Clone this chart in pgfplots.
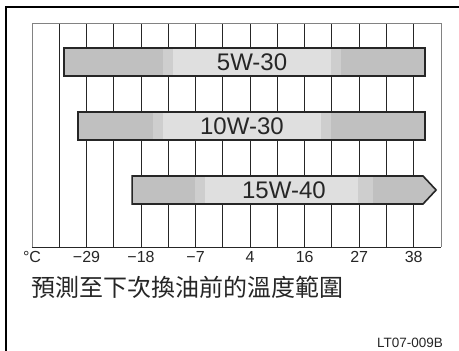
\documentclass[border=0pt]{standalone}
\usepackage{fontspec}
\setmainfont{Liberation Sans}
\newfontfamily\cjk{Noto Sans CJK TC}
\usepackage{pgfplots}
\pgfplotsset{compat=1.18}
\definecolor{barDark}{RGB}{192,192,192}
\definecolor{barMid}{RGB}{206,206,206}
\definecolor{barLight}{RGB}{223,223,223}
\definecolor{gridGray}{RGB}{130,130,130}
\begin{document}
\begin{tikzpicture}
% page: 459 x 351 bp; axis origin placed at page (32,104)
\useasboundingbox (-32bp,-104bp) rectangle (427bp,247bp);
\fill[white] (-32bp,-104bp) rectangle (427bp,247bp);
\draw[line width=2.7bp] (427bp,240bp) -- (-26bp,240bp) -- (-26bp,-104bp);
\begin{axis}[anchor=origin, at={(0,0)}, scale only axis,
  width=409bp, height=224bp, xmin=0, xmax=15, ymin=0, ymax=224,
  axis line style={draw=none}, no markers, clip=false,
  xtick={0,...,14},
  xticklabels={°C,,−29,,−18,,−7,,4,,16,,27,,38},
  ytick=\empty, major tick length=0pt,
  xmajorgrids, grid style={black!85, line width=0.9bp},
  xticklabel style={font=\fontsize{16bp}{16bp}\selectfont, text=black!85, anchor=north, inner sep=0pt, yshift=-4.5bp}]
% borders
\draw[gridGray, line width=0.9bp] (rel axis cs:0,0) -- (rel axis cs:0,1) -- (rel axis cs:1,1) -- (rel axis cs:1,0);
\draw[black!85, line width=0.9bp] (rel axis cs:0,0) -- (rel axis cs:1,0);
% 5W-30
\addplot[fill=barDark, draw=none] coordinates {(1.17,171) (14.41,171) (14.41,199) (1.17,199)} -- cycle;
\addplot[fill=barMid, draw=none] coordinates {(4.80,171) (11.33,171) (11.33,199) (4.80,199)} -- cycle;
\addplot[fill=barLight, draw=none] coordinates {(5.17,171) (10.97,171) (10.97,199) (5.17,199)} -- cycle;
\addplot[draw=black!85, line width=1.6bp, fill=none] coordinates {(1.17,171) (14.41,171) (14.41,199) (1.17,199)} -- cycle;
% 10W-30
\addplot[fill=barDark, draw=none] coordinates {(1.69,107) (14.41,107) (14.41,135) (1.69,135)} -- cycle;
\addplot[fill=barMid, draw=none] coordinates {(4.44,107) (10.97,107) (10.97,135) (4.44,135)} -- cycle;
\addplot[fill=barLight, draw=none] coordinates {(4.80,107) (10.60,107) (10.60,135) (4.80,135)} -- cycle;
\addplot[draw=black!85, line width=1.6bp, fill=none] coordinates {(1.69,107) (14.41,107) (14.41,135) (1.69,135)} -- cycle;
% 15W-40
\addplot[fill=barDark, draw=none] coordinates {(3.67,43) (14.34,43) (14.82,57) (14.34,71) (3.67,71)} -- cycle;
\addplot[fill=barMid, draw=none] coordinates {(5.98,43) (12.51,43) (12.51,71) (5.98,71)} -- cycle;
\addplot[fill=barLight, draw=none] coordinates {(6.34,43) (11.94,43) (11.94,71) (6.34,71)} -- cycle;
\addplot[draw=black!85, line width=1.6bp, fill=none, line join=miter] coordinates {(3.67,43) (14.34,43) (14.82,57) (14.34,71) (3.67,71)} -- cycle;
% labels
\node[font=\fontsize{24bp}{24bp}\selectfont, text=black!85] at (axis cs:8.07,185) {5W-30};
\node[font=\fontsize{24bp}{24bp}\selectfont, text=black!85] at (axis cs:7.70,121) {10W-30};
\node[font=\fontsize{24bp}{24bp}\selectfont, text=black!85] at (axis cs:9.24,57) {15W-40};
\end{axis}
\node[anchor=base west, inner sep=0pt, font=\cjk\fontsize{24bp}{24bp}\selectfont, text=black!85] at (-1bp,-49bp) {預測至下次換油前的溫度範圍};
\node[anchor=base east, inner sep=0pt, font=\fontsize{13.5bp}{13.5bp}\selectfont, text=black!85] at (411bp,-100bp) {LT07-009B};
\end{tikzpicture}
\end{document}
